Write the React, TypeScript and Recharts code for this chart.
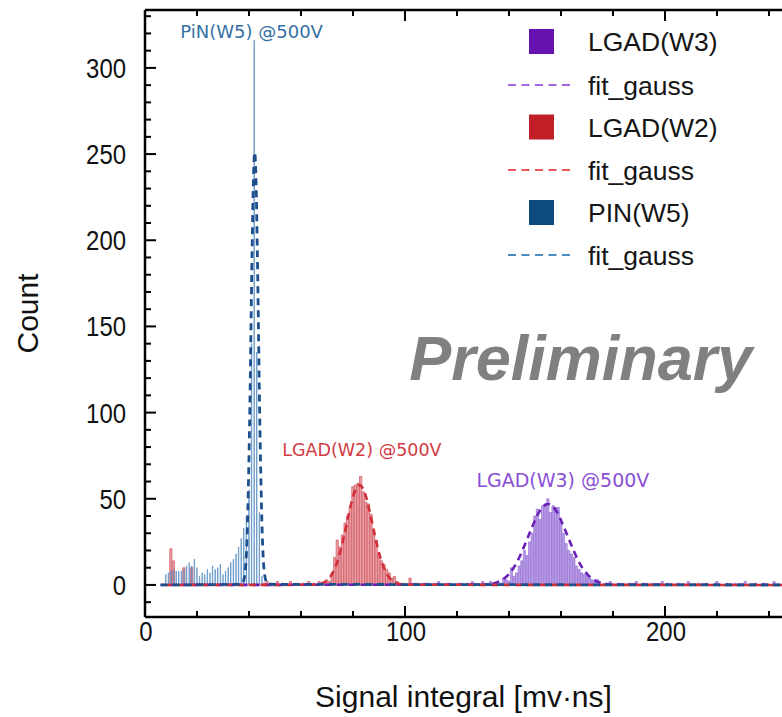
import React from 'react';
import { Bar, ComposedChart, Legend, Line, ReferenceDot, XAxis, YAxis } from 'recharts';

// axes
const X_DOMAIN: [number, number] = [0, 245];
const Y_DOMAIN: [number, number] = [-18.6, 333.6];
const X_TICKS = [0, 20, 40, 60, 80, 100, 120, 140, 160, 180, 200, 220, 240];
const X_LABELED = [0, 100, 200];
const Y_TICKS = [
  -10, 0, 10, 20, 30, 40, 50, 60, 70, 80, 90, 100, 110, 120, 130, 140, 150, 160, 170, 180, 190,
  200, 210, 220, 230, 240, 250, 260, 270, 280, 290, 300, 310, 320, 330,
];
const Y_LABELED = [0, 50, 100, 150, 200, 250, 300];

// histogram counts (bin width 1 mV·ns)
const BIN_FIRST = 6;
const BIN_LAST = 245;

const PIN_START = 8;
const PIN_COUNTS = [
  6, 7, 8, 9, 8, 8, 8, 9, 11, 13, 11, 15, 10, 5, 7, 6, 9, 7, 11, 9, 10, 12, 6, 8, 10, 13, 15, 18,
  22, 27, 33, 40, 55, 140, 316, 135, 42, 5,
];

const W2_START = 69;
const W2_COUNTS = [
  2, 3, 2, 7, 16, 26, 22, 29, 36, 40, 45, 57, 58, 59, 63, 54, 48, 47, 41, 32, 26, 18, 14, 12, 9, 7,
  4, 5, 2, 1,
];
const W2_EXTRA: [number, number][] = [
  [10, 21], [11, 14], [15, 10], [18, 10], [46, 1], [47, 2], [49, 1], [51, 2], [53, 1], [56, 2],
  [58, 1], [61, 1], [63, 2], [65, 1], [67, 2], [100, 1], [102, 4], [105, 1], [108, 1],
];

const W3_START = 135;
const W3_COUNTS = [
  1, 0, 1, 4, 3, 2, 10, 5, 7, 11, 14, 20, 17, 25, 30, 40, 44, 38, 46, 47, 50, 42, 46, 45, 45, 36,
  30, 24, 20, 18, 16, 11, 9, 7, 6, 6, 4, 3, 2, 3,
];
const W3_EXTRA: [number, number][] = [
  [104, 1], [109, 1], [113, 2], [117, 1], [121, 1], [124, 1], [126, 2], [128, 1], [130, 2],
  [132, 1], [133, 2], [177, 1], [179, 2], [182, 1], [186, 1], [189, 2], [192, 1], [195, 1],
  [199, 2], [201, 1], [205, 1], [209, 2], [213, 1], [216, 1], [220, 2], [224, 1], [227, 1],
  [231, 2], [235, 1], [238, 1], [242, 2],
];

// gaussian fit curves
const PIN_FIT_X = [6, 37.2, 38.2, 39.2, 40.2, 41.2, 41.7, 42.2, 42.7, 43.2, 44.2, 45.2, 46.2, 47.2, 245];
const PIN_FIT_Y = [0, 0.4, 4.3, 25, 91, 194, 235, 251, 235, 194, 91, 25, 4.3, 0.4, 0];

const W2_FIT_X = [6, 64.5, 66.5, 68.5, 70.5, 72.5, 74.5, 76.5, 78.5, 80.5, 82.5, 84.5, 86.5, 88.5, 90.5, 92.5, 94.5, 96.5, 98.5, 100.5, 245];
const W2_FIT_Y = [0, 0.1, 0.35, 1.2, 3.3, 7.9, 16, 28, 42, 53.5, 58, 53.5, 42, 28, 16, 7.9, 3.3, 1.2, 0.35, 0.1, 0];

const W3_FIT_X = [6, 131, 134, 137, 140, 143, 146, 149, 152, 155, 158, 161, 164, 167, 170, 173, 176, 179, 245];
const W3_FIT_Y = [0, 0.3, 0.9, 2.6, 6.4, 13, 23, 34, 43.4, 47, 43.4, 34, 23, 13, 6.4, 2.6, 0.9, 0.3, 0];

const LEGEND_ITEMS = [
  { label: 'LGAD(W3)', kind: 'box', color: '#6612b0' },
  { label: 'fit_gauss', kind: 'dash', color: '#a066e0' },
  { label: 'LGAD(W2)', kind: 'box', color: '#c01f28' },
  { label: 'fit_gauss', kind: 'dash', color: '#e8575e' },
  { label: 'PIN(W5)', kind: 'box', color: '#0d4a7e' },
  { label: 'fit_gauss', kind: 'dash', color: '#4a8cc0' },
];

const SANS = '"Liberation Sans", Arial, sans-serif';

type Row = { x: number; pin?: number; w2?: number; w3?: number };

function buildTable(): Row[] {
  const rows: Row[] = [];
  for (let x = BIN_FIRST; x <= BIN_LAST; x++) rows.push({ x });
  const put = (key: 'pin' | 'w2' | 'w3', x: number, v: number) => {
    if (v > 0) rows[x - BIN_FIRST][key] = v;
  };
  PIN_COUNTS.forEach((v, i) => put('pin', PIN_START + i, v));
  W2_COUNTS.forEach((v, i) => put('w2', W2_START + i, v));
  W2_EXTRA.forEach(([x, v]) => put('w2', x, v));
  W3_COUNTS.forEach((v, i) => put('w3', W3_START + i, v));
  W3_EXTRA.forEach(([x, v]) => put('w3', x, v));
  return rows;
}

const zip = (xs: number[], ys: number[]) => xs.map((x, i) => ({ x, y: ys[i] }));

const data = buildTable();
const pinFit = zip(PIN_FIT_X, PIN_FIT_Y);
const w2Fit = zip(W2_FIT_X, W2_FIT_Y);
const w3Fit = zip(W3_FIT_X, W3_FIT_Y);

// tick labels in the original are a condensed sans
function NarrowText({ x, y, anchor, children }: any) {
  return (
    <g transform={`translate(${x} ${y}) scale(0.87 1)`}>
      <text x={0} y={0} textAnchor={anchor} fontFamily={SANS} fontSize={27.5} fill="#111">
        {children}
      </text>
    </g>
  );
}

function BottomTick(props: any) {
  const { x, y, payload } = props;
  const major = X_LABELED.includes(payload.value);
  return (
    <g>
      <line x1={x} x2={x} y1={y} y2={y - (major ? 11 : 6)} stroke="#000" strokeWidth={2} />
      {major && (
        <NarrowText x={x + 1} y={y + 24} anchor="middle">
          {payload.value}
        </NarrowText>
      )}
    </g>
  );
}

function TopTick(props: any) {
  const { x, y, payload } = props;
  const major = X_LABELED.includes(payload.value);
  return <line x1={x} x2={x} y1={y} y2={y + (major ? 11 : 6)} stroke="#000" strokeWidth={2} />;
}

function LeftTick(props: any) {
  const { x, y, payload } = props;
  const major = payload.value % 50 === 0;
  return (
    <g>
      <line x1={x} x2={x + (major ? 11 : 6)} y1={y} y2={y} stroke="#000" strokeWidth={2} />
      {Y_LABELED.includes(payload.value) && (
        <NarrowText x={x - 19} y={y + 10} anchor="end">
          {payload.value}
        </NarrowText>
      )}
    </g>
  );
}

function XTitle(props: any) {
  const { x, y, width } = props.viewBox;
  return (
    <text x={x + width / 2} y={y + 90} textAnchor="middle" fontFamily={SANS} fontSize={30} fill="#111">
      Signal integral [mv·ns]
    </text>
  );
}

function YTitle(props: any) {
  const { y, height } = props.viewBox;
  const cy = y + height / 2;
  return (
    <text x={38} y={cy} transform={`rotate(-90 38 ${cy})`} textAnchor="middle" fontFamily={SANS} fontSize={30} fill="#111">
      Count
    </text>
  );
}

const annotation = (text: string, color: string, size: number, extra: any = {}) => (props: any) => {
  const { x, y } = props.viewBox;
  return (
    <text x={x} y={y} dy="0.36em" textAnchor="middle" fill={color} fontSize={size} {...extra}>
      {text}
    </text>
  );
};

function LegendBox() {
  const rowY = [41.5, 85, 127, 170, 212.5, 255];
  return (
    <svg width={282} height={280}>
      {LEGEND_ITEMS.map((it, i) => (
        <g key={i}>
          {it.kind === 'box' ? (
            <rect x={29} y={rowY[i] - 12.5} width={25} height={25} fill={it.color} />
          ) : (
            <line x1={8} x2={70} y1={rowY[i]} y2={rowY[i]} stroke={it.color} strokeWidth={2.2} strokeDasharray="8 5.5" />
          )}
          <text x={88} y={rowY[i]} dy="0.36em" fontFamily={SANS} fontSize={26.5} fill="#151515">
            {it.label}
          </text>
        </g>
      ))}
    </svg>
  );
}

export default function App() {
  const axisLine = { stroke: '#000', strokeWidth: 2.5 };
  return (
    <div style={{ position: 'absolute', left: 0, top: 0 }}>
      <ComposedChart width={782} height={717} data={data} margin={{ top: 9, right: 0, bottom: 0, left: 0 }}>
        <XAxis
          xAxisId="pin"
          dataKey="x"
          type="number"
          domain={X_DOMAIN}
          allowDataOverflow
          ticks={X_TICKS}
          interval={0}
          height={100}
          tickSize={0}
          tickMargin={0}
          tickLine={false}
          axisLine={axisLine}
          tick={BottomTick}
          label={XTitle}
        />
        <XAxis xAxisId="w2" dataKey="x" type="number" domain={X_DOMAIN} allowDataOverflow hide />
        <XAxis xAxisId="w3" dataKey="x" type="number" domain={X_DOMAIN} allowDataOverflow hide />
        <XAxis
          xAxisId="top"
          orientation="top"
          dataKey="x"
          type="number"
          domain={X_DOMAIN}
          allowDataOverflow
          ticks={X_TICKS}
          interval={0}
          height={1}
          tickSize={0}
          tickMargin={0}
          tickLine={false}
          axisLine={axisLine}
          tick={TopTick}
        />
        <YAxis
          type="number"
          domain={Y_DOMAIN}
          allowDataOverflow
          ticks={Y_TICKS}
          interval={0}
          width={145}
          tickSize={0}
          tickMargin={0}
          tickLine={false}
          axisLine={axisLine}
          tick={LeftTick}
          label={YTitle}
        />
        <Legend
          layout="vertical"
          align="center"
          verticalAlign="middle"
          content={() => <LegendBox />}
          wrapperStyle={{ left: 500, top: 0, width: 282, height: 280 }}
        />

        <Bar xAxisId="w3" dataKey="w3" barSize={2.3} fill="#b89de4" stroke="#8e66d2" strokeWidth={0.6} isAnimationActive={false} />
        <Bar xAxisId="w2" dataKey="w2" barSize={2.3} fill="#e8a0a6" stroke="#cc4652" strokeWidth={0.6} isAnimationActive={false} />
        <Bar xAxisId="pin" dataKey="pin" barSize={2.3} fill="#8db4d9" stroke="#4f88bd" strokeWidth={0.6} isAnimationActive={false} />

        <Line xAxisId="pin" data={w3Fit} dataKey="y" type="monotone" stroke="#6a1fb8" strokeWidth={2.6} strokeDasharray="7 5" strokeDashoffset={4} dot={false} activeDot={false} isAnimationActive={false} />
        <Line xAxisId="pin" data={w2Fit} dataKey="y" type="monotone" stroke="#d1303a" strokeWidth={2.6} strokeDasharray="7 5" strokeDashoffset={8} dot={false} activeDot={false} isAnimationActive={false} />
        <Line xAxisId="pin" data={pinFit} dataKey="y" type="monotone" stroke="#1c4f8c" strokeWidth={2.8} strokeDasharray="7 5" dot={false} activeDot={false} isAnimationActive={false} />

        <ReferenceDot xAxisId="pin" x={41.4} y={320.3} r={1} fill="none" stroke="none"
          label={annotation('PiN(W5) @500V', '#3570a5', 18, { fontFamily: '"DejaVu Sans", sans-serif' })} />
        <ReferenceDot xAxisId="pin" x={83.8} y={77.8} r={1} fill="none" stroke="none"
          label={annotation('LGAD(W2) @500V', '#d23a44', 17.5, { fontFamily: '"DejaVu Sans", sans-serif' })} />
        <ReferenceDot xAxisId="pin" x={161.1} y={60.3} r={1} fill="none" stroke="none"
          label={annotation('LGAD(W3) @500V', '#8a4fd6', 19, { fontFamily: '"DejaVu Sans", sans-serif' })} />
        <ReferenceDot xAxisId="pin" x={168} y={131.7} r={1} fill="none" stroke="none"
          label={annotation('Preliminary', '#808080', 63, { fontFamily: SANS, fontWeight: 'bold', fontStyle: 'italic' })} />
      </ComposedChart>
    </div>
  );
}
